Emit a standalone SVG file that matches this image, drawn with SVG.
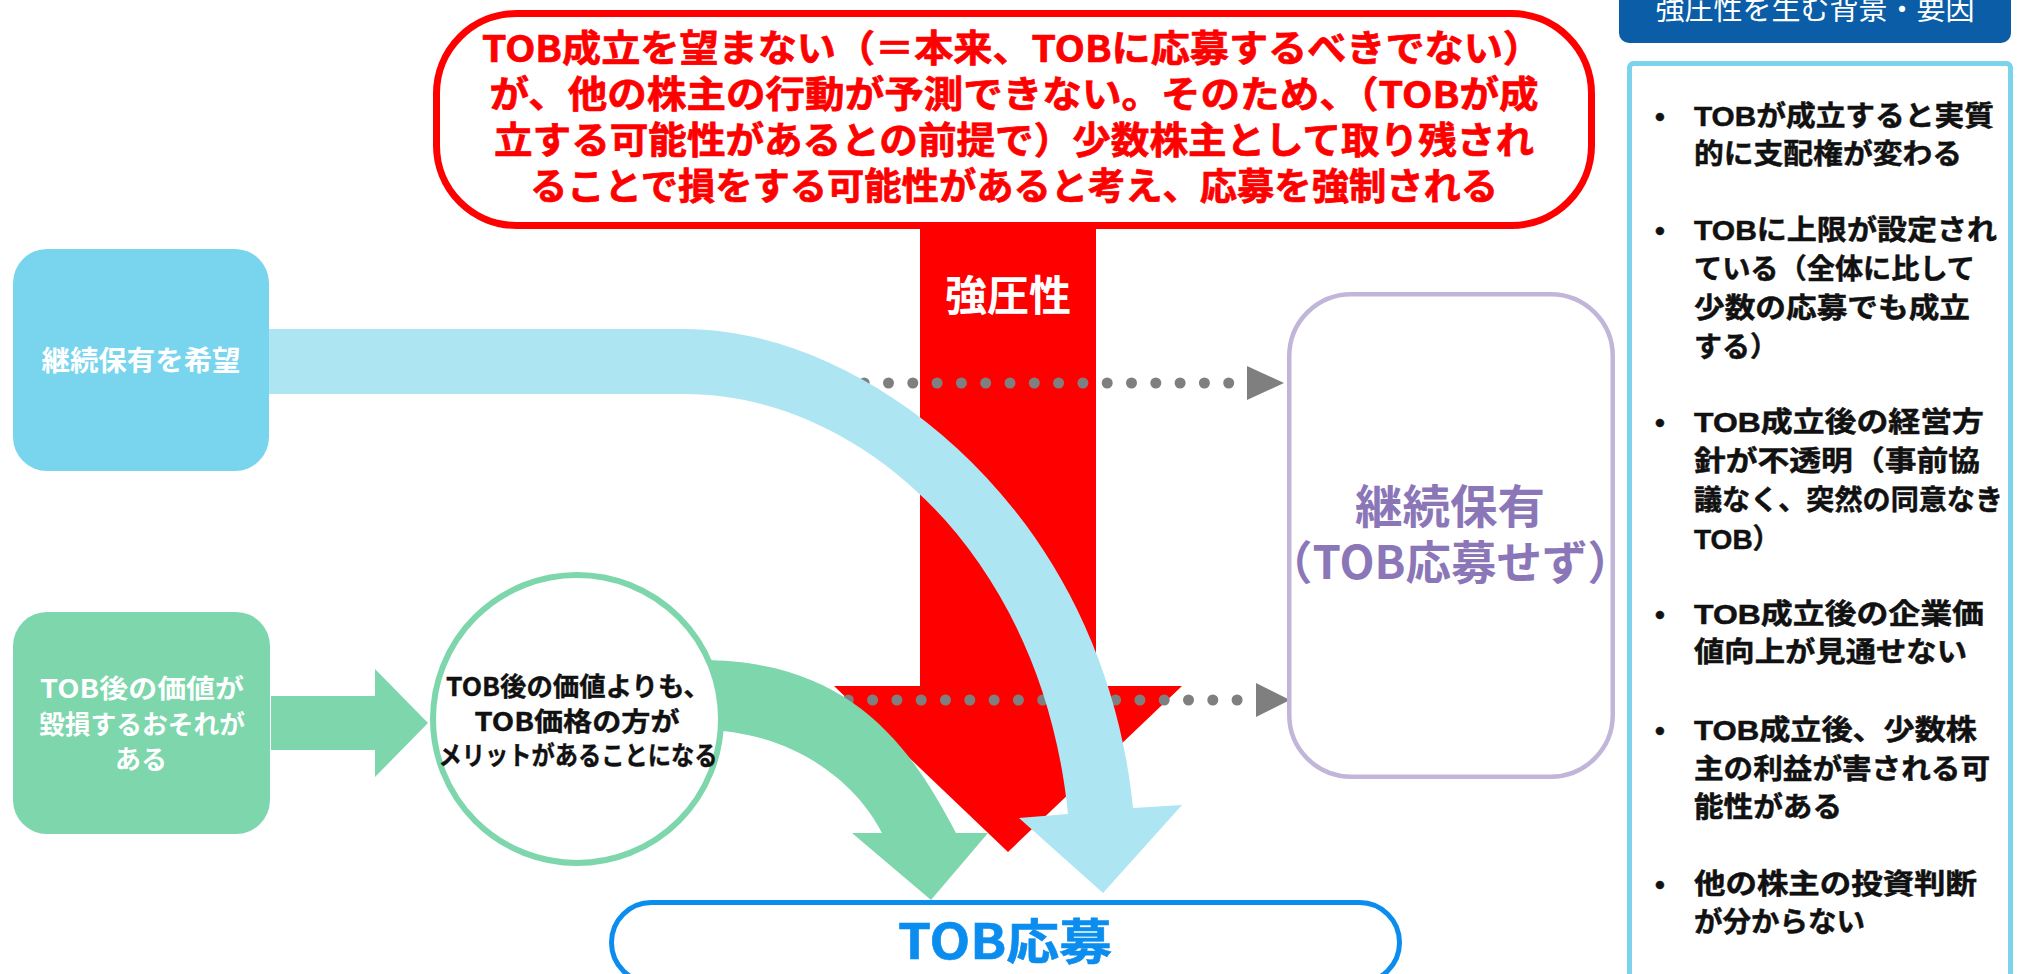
<svg xmlns="http://www.w3.org/2000/svg" width="2026" height="974" viewBox="0 0 2026 974">
<style>
text{font-family:"Noto Sans CJK JP","Noto Sans CJK SC",sans-serif;font-weight:bold}
.red{fill:#FF0000;stroke:#FF0000;stroke-width:0.7;font-size:37px}
.wt{fill:#FFFFFF}
.blk{fill:#111111;stroke:#111111;stroke-width:0.4}
.li text{fill:#111111;stroke:#111111;stroke-width:0.5;font-size:28px;font-family:"Liberation Sans","Noto Sans CJK JP","Noto Sans CJK SC",sans-serif;font-weight:bold}
.mid{text-anchor:middle}
.dots{stroke:#7F7F7F;stroke-width:11;stroke-linecap:round;stroke-dasharray:0 24.3;fill:none}
</style>
<rect x="0" y="0" width="2026" height="974" fill="#FFFFFF"/>
<g id="connectors">
  <path id="pressure-arrow" d="M920,220 L1096,220 L1096,686 L1182,686 L1008,852 L834,686 L920,686 Z" fill="#FF0000"/>
  <line class="dots" x1="839.9" y1="383" x2="1229" y2="383"/>
  <path d="M1247,366 L1284,383 L1247,400 Z" fill="#7F7F7F"/>
  <line class="dots" x1="848.3" y1="700" x2="1237.5" y2="700"/>
  <path d="M1256,683 L1290,700 L1256,717 Z" fill="#7F7F7F"/>
  <path id="green-curve" d="M700,660 C850,660 910,745 956,833 L988,833 L931,900 L852,833 L882,833 C855,780 790,730 700,730 Z" fill="#7DD6AC"/>
  <path id="blue-curve" d="M269,329 L685,329 C865,329 1103,508 1133,808 L1182,805 L1103,893 L1019,818 L1068,814 C1042,554 860,394 685,394 L269,394 Z" fill="#AEE5F3"/>
  <path id="green-arrow" d="M271,696 L375,696 L375,669 L428,723 L375,777 L375,750 L271,750 Z" fill="#7DD6AC"/>
  <text class="wt mid" x="1008" y="311" font-size="42">強圧性</text>
</g>
<g id="node-top">
  <rect x="436.5" y="13.5" width="1155" height="212" rx="80" fill="#FFFFFF" stroke="#FF0000" stroke-width="7"/>
  <text class="red mid" x="1012" y="61.5" textLength="1060" lengthAdjust="spacingAndGlyphs">TOB成立を望まない（＝本来、TOBに応募するべきでない）</text>
  <text class="red mid" x="1014" y="107.5" textLength="1049" lengthAdjust="spacingAndGlyphs">が、他の株主の行動が予測できない。そのため、（TOBが成</text>
  <text class="red mid" x="1014" y="153.5" textLength="1040" lengthAdjust="spacingAndGlyphs">立する可能性があるとの前提で）少数株主として取り残され</text>
  <text class="red mid" x="1014" y="199.5" textLength="968" lengthAdjust="spacingAndGlyphs">ることで損をする可能性があると考え、応募を強制される</text>
</g>
<g id="node-hold-wish">
  <rect x="13" y="249" width="256" height="222" rx="34" fill="#78D5ED"/>
  <text class="wt mid" x="141" y="371" font-size="28" textLength="199" lengthAdjust="spacingAndGlyphs">継続保有を希望</text>
</g>
<g id="node-value-loss">
  <rect x="13" y="612" width="257" height="222" rx="34" fill="#7DD6AC"/>
  <text class="wt mid" x="142" y="698" font-size="26" textLength="204" lengthAdjust="spacingAndGlyphs">TOB後の価値が</text>
  <text class="wt mid" x="142" y="734" font-size="26" textLength="206" lengthAdjust="spacingAndGlyphs">毀損するおそれが</text>
  <text class="wt mid" x="141" y="769" font-size="26">ある</text>
</g>
<g id="node-circle">
  <circle cx="577" cy="719" r="144" fill="#FFFFFF" stroke="#7DD6AC" stroke-width="6"/>
  <text class="blk mid" x="578" y="696" font-size="26" textLength="264" lengthAdjust="spacingAndGlyphs">TOB後の価値よりも、</text>
  <text class="blk mid" x="577" y="731" font-size="26" textLength="205" lengthAdjust="spacingAndGlyphs">TOB価格の方が</text>
  <text class="blk mid" x="578" y="765" font-size="26" textLength="279" lengthAdjust="spacingAndGlyphs">メリットがあることになる</text>
</g>
<g id="node-hold">
  <rect x="1289.25" y="294.25" width="323.5" height="482.5" rx="62" fill="#FFFFFF" stroke="#C2B5DA" stroke-width="4.5"/>
  <text class="mid" x="1450" y="523" font-size="46" fill="#8B77B8" textLength="190" lengthAdjust="spacingAndGlyphs">継続保有</text>
  <text class="mid" x="1450" y="579" font-size="46" fill="#8B77B8" textLength="366" lengthAdjust="spacingAndGlyphs">（TOB応募せず）</text>
</g>
<g id="node-tender">
  <rect x="611.5" y="902.5" width="788" height="80" rx="40" fill="#FFFFFF" stroke="#0A8DEE" stroke-width="5"/>
  <text class="mid" x="1005" y="959" font-size="48" fill="#0A8DEE" stroke="#0A8DEE" stroke-width="0.6" textLength="214" lengthAdjust="spacingAndGlyphs">TOB応募</text>
</g>
<g id="node-header">
  <rect x="1619" y="-12" width="392" height="55" rx="10" fill="#0A5DA6"/>
  <text class="mid" x="1815" y="20" font-size="29" fill="#FFFFFF" style="font-weight:normal">強圧性を生む背景・要因</text>
</g>
<g id="node-factors">
  <rect x="1629.5" y="63.5" width="381" height="925" rx="4" fill="#FFFFFF" stroke="#7CD4EC" stroke-width="5"/>
  <g class="li">
    <text class="mid" x="1660" y="126">•</text>
    <text x="1694" y="126" textLength="300" lengthAdjust="spacingAndGlyphs">TOBが成立すると実質</text>
    <text x="1694" y="164" textLength="268" lengthAdjust="spacingAndGlyphs">的に支配権が変わる</text>
    <text class="mid" x="1660" y="240">•</text>
    <text x="1694" y="240" textLength="303" lengthAdjust="spacingAndGlyphs">TOBに上限が設定され</text>
    <text x="1694" y="279" textLength="281" lengthAdjust="spacingAndGlyphs">ている（全体に比して</text>
    <text x="1694" y="318" textLength="276" lengthAdjust="spacingAndGlyphs">少数の応募でも成立</text>
    <text x="1694" y="357">する）</text>
    <text class="mid" x="1660" y="432">•</text>
    <text x="1694" y="432" textLength="290" lengthAdjust="spacingAndGlyphs">TOB成立後の経営方</text>
    <text x="1694" y="471" textLength="286" lengthAdjust="spacingAndGlyphs">針が不透明（事前協</text>
    <text x="1694" y="510" textLength="309" lengthAdjust="spacingAndGlyphs">議なく、突然の同意なき</text>
    <text x="1694" y="549">TOB）</text>
    <text class="mid" x="1660" y="624">•</text>
    <text x="1694" y="624" textLength="290" lengthAdjust="spacingAndGlyphs">TOB成立後の企業価</text>
    <text x="1694" y="662" textLength="273" lengthAdjust="spacingAndGlyphs">値向上が見通せない</text>
    <text class="mid" x="1660" y="740">•</text>
    <text x="1694" y="740" textLength="283" lengthAdjust="spacingAndGlyphs">TOB成立後、少数株</text>
    <text x="1694" y="779" textLength="296" lengthAdjust="spacingAndGlyphs">主の利益が害される可</text>
    <text x="1694" y="817" textLength="148" lengthAdjust="spacingAndGlyphs">能性がある</text>
    <text class="mid" x="1660" y="894">•</text>
    <text x="1694" y="894" textLength="283" lengthAdjust="spacingAndGlyphs">他の株主の投資判断</text>
    <text x="1694" y="932" textLength="171" lengthAdjust="spacingAndGlyphs">が分からない</text>
  </g>
</g>
</svg>
